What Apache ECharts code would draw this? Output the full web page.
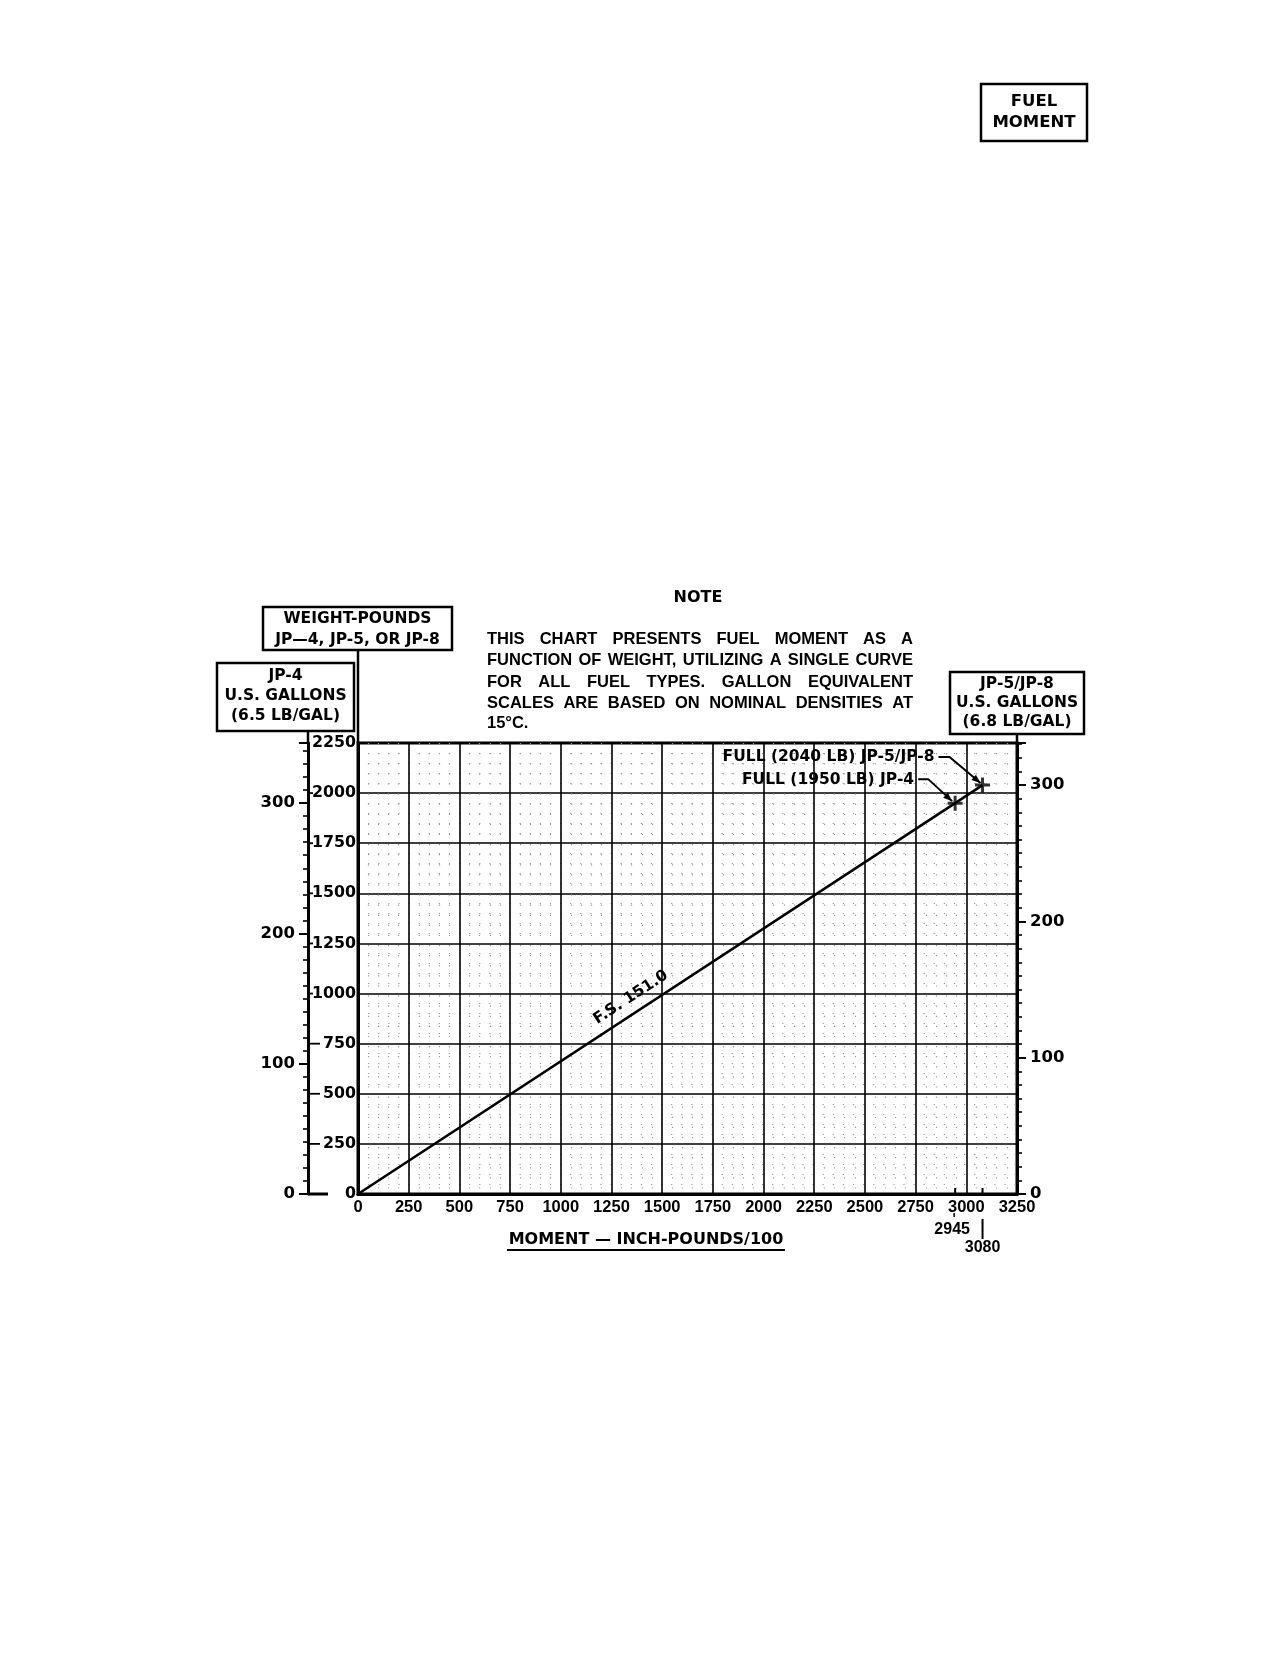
<!DOCTYPE html>
<html>
<head>
<meta charset="utf-8">
<title>Fuel Moment</title>
<script src="https://cdn.jsdelivr.net/npm/echarts@6/dist/echarts.min.js"></script>
<style>
    html, body { margin: 0; padding: 0; background: #fff; }
    #chart { width: 1288px; height: 1660px; }
</style>
</head>
<body>
<div id="chart"></div>
<script>
// fuel moment line, F.S. 151.0
const lineMoment = [0, 2945, 3080];
const lineWeight = [0, 1950, 2040];

// full tank points
const fullMoment = [2945, 3080];
const fullWeight = [1950, 2040];
const fullLabels = ['FULL (1950 LB) JP-4', 'FULL (2040 LB) JP-5/JP-8'];

// axis ranges
const momentMax = 3250;
const weightMax = 2250;
const weightTicks = [250, 500, 750, 1000, 1250, 1500, 1750, 2000];
const jp4Density = 6.5;  // lb/gal
const jp5Density = 6.8;  // lb/gal

const noteLines = [
    'THIS CHART PRESENTS FUEL MOMENT AS A',
    'FUNCTION OF WEIGHT, UTILIZING A SINGLE CURVE',
    'FOR ALL FUEL TYPES. GALLON EQUIVALENT',
    'SCALES ARE BASED ON NOMINAL DENSITIES AT',
    '15°C.'
];

const gridLeft = 358, gridTop = 743, gridW = 659, gridH = 451;
const galOffset = 50;
const boxFont = 'bold 15.5px "DejaVu Sans"';

let chart = echarts.init(document.getElementById('chart'), null, { renderer: 'canvas' });

let minorDots = { show: true, lineStyle: { color: '#999', width: 1.2, type: [1.2, 8.9] } };
let plain = v => String(Math.round(v));
let galLabel = v => (v % 100 === 0 ? String(v) : '');

let option = {
    backgroundColor: '#fff',
    animation: false,
    grid: {
        left: gridLeft, top: gridTop, width: gridW, height: gridH,
        show: true, borderColor: '#000', borderWidth: 3
    },
    xAxis: {
        type: 'value', min: 0, max: momentMax, interval: 250,
        axisLine: { show: true, lineStyle: { color: '#000', width: 3 } },
        axisTick: { show: false },
        axisLabel: { color: '#000', fontFamily: 'Liberation Sans', fontWeight: 'bold', fontSize: 16.5, margin: 5, formatter: plain },
        splitLine: { show: true, lineStyle: { color: '#000', width: 1.6 } },
        minorTick: { show: false, splitNumber: 5 },
        minorSplitLine: minorDots
    },
    yAxis: [
        {
            type: 'value', min: 0, max: weightMax, interval: 250, position: 'left',
            axisLine: { show: true, lineStyle: { color: '#000', width: 3 } },
            axisTick: { show: false },
            axisLabel: { color: '#000', fontFamily: 'DejaVu Sans', fontWeight: 'bold', fontSize: 15.8, margin: 2, formatter: plain },
            splitLine: { show: true, lineStyle: { color: '#000', width: 1.6 } },
            minorTick: { show: false, splitNumber: 5 },
            minorSplitLine: minorDots
        },
        {
            // JP-4 gallons
            type: 'value', min: 0, max: weightMax / jp4Density, interval: 100,
            position: 'left', offset: galOffset,
            axisLine: { show: true, lineStyle: { color: '#000', width: 3 } },
            axisTick: { show: true, length: 9, lineStyle: { color: '#000', width: 2 } },
            minorTick: { show: true, splitNumber: 10, length: 5, lineStyle: { color: '#000', width: 1.6 } },
            axisLabel: { color: '#000', fontFamily: 'DejaVu Sans', fontWeight: 'bold', fontSize: 16.5, margin: 13, formatter: galLabel },
            splitLine: { show: false }
        },
        {
            // JP-5 / JP-8 gallons
            type: 'value', min: 0, max: weightMax / jp5Density, interval: 100,
            position: 'right', offset: 0,
            axisLine: { show: true, lineStyle: { color: '#000', width: 3 } },
            axisTick: { show: true, length: 9, lineStyle: { color: '#000', width: 2 } },
            minorTick: { show: true, splitNumber: 10, length: 5, lineStyle: { color: '#000', width: 1.6 } },
            axisLabel: { color: '#000', fontFamily: 'DejaVu Sans', fontWeight: 'bold', fontSize: 16.5, margin: 13, formatter: galLabel },
            splitLine: { show: false }
        }
    ],
    series: [
        {
            type: 'line',
            yAxisIndex: 0,
            data: lineMoment.map((m, i) => [m, lineWeight[i]]),
            symbol: 'none',
            lineStyle: { color: '#000', width: 2.6 },
            z: 5
        },
        {
            type: 'scatter',
            yAxisIndex: 0,
            data: fullMoment.map((m, i) => [m, fullWeight[i]]),
            symbol: 'path://M5.6,0H8.4V14H5.6Z M0,5.6H14V8.4H0Z',
            symbolSize: 15,
            itemStyle: { color: '#000' },
            z: 6
        }
    ]
};
chart.setOption(option);

// ---- annotations ----
function px(m, w) {
    return chart.convertToPixel({ xAxisIndex: 0, yAxisIndex: 0 }, [m, w]);
}

function txt(x, y, s, font, align, extra) {
    return Object.assign({
        type: 'text', x: x, y: y, z: 20,
        style: { text: s, fill: '#000', font: font, align: align || 'center', verticalAlign: 'middle' }
    }, extra || {});
}

function line(x1, y1, x2, y2, w) {
    return { type: 'line', z: 20, shape: { x1, y1, x2, y2 }, style: { stroke: '#000', lineWidth: w || 2 } };
}

function box(x, y, w, h) {
    return { type: 'rect', z: 19, shape: { x, y, width: w, height: h }, style: { fill: '#fff', stroke: '#000', lineWidth: 2.5 } };
}

function arrowHead(p, t) {
    let dx = t[0] - p[0], dy = t[1] - p[1];
    let len = Math.sqrt(dx * dx + dy * dy);
    let ux = dx / len, uy = dy / len;
    let bx = t[0] - 9 * ux, by = t[1] - 9 * uy;
    return {
        type: 'polygon', z: 20,
        shape: { points: [t, [bx - 3.5 * uy, by + 3.5 * ux], [bx + 3.5 * uy, by - 3.5 * ux]] },
        style: { fill: '#000' }
    };
}

let g = [];

// FUEL MOMENT tab
g.push(box(981, 84, 106, 57));
g.push(txt(1034, 102, 'FUEL', 'bold 16.5px "DejaVu Sans"'));
g.push(txt(1034, 123, 'MOMENT', 'bold 16.5px "DejaVu Sans"'));

// NOTE, justified paragraph
g.push(txt(698, 598, 'NOTE', 'bold 16px "DejaVu Sans"'));
let noteLeft = 487, noteRight = 913, noteY = [639, 660.5, 682, 703, 723];
let noteFont = 'bold 16.5px "Liberation Sans"';
let ctx = document.createElement('canvas').getContext('2d');
ctx.font = noteFont;
// squeeze horizontally so the longest line just fills the column
let sx = Math.min(1, (noteRight - noteLeft) / ctx.measureText(noteLines[1]).width);
noteLines.forEach((ln, i) => {
    let words = ln.split(' ');
    if (i === noteLines.length - 1) {
        g.push(txt(noteLeft, noteY[i], ln, noteFont, 'left', { scaleX: sx }));
        return;
    }
    let widths = words.map(w => ctx.measureText(w).width * sx);
    let total = widths.reduce((a, b) => a + b, 0);
    let gap = (noteRight - noteLeft - total) / (words.length - 1);
    let x = noteLeft;
    words.forEach((w, k) => {
        g.push(txt(x, noteY[i], w, noteFont, 'left', { scaleX: sx }));
        x += widths[k] + gap;
    });
});

// axis title boxes
g.push(box(263, 607, 189, 43));
g.push(txt(357.5, 619, 'WEIGHT-POUNDS', boxFont));
g.push(txt(357.5, 640, 'JP—4, JP-5, OR JP-8', boxFont));
g.push(line(gridLeft, 650, gridLeft, gridTop, 2.5));

g.push(box(217, 663, 137, 68));
g.push(txt(285.5, 676, 'JP-4', boxFont));
g.push(txt(285.5, 696, 'U.S. GALLONS', boxFont));
g.push(txt(285.5, 716, '(6.5 LB/GAL)', boxFont));
g.push(line(gridLeft - galOffset, 731, gridLeft - galOffset, gridTop, 2.5));

g.push(box(950, 672, 134, 62));
g.push(txt(1017, 684, 'JP-5/JP-8', boxFont));
g.push(txt(1017, 703, 'U.S. GALLONS', boxFont));
g.push(txt(1017, 722, '(6.8 LB/GAL)', boxFont));
g.push(line(gridLeft + gridW, 734, gridLeft + gridW, gridTop, 2.5));

// little dashes from gallon axis to weight labels
let galX = gridLeft - galOffset;
weightTicks.forEach(w => {
    let y = px(0, w)[1];
    g.push(line(galX, y, galX + (w < 1000 ? 12 : 5), y, 1.8));
});
let y0 = px(0, 0)[1];
g.push(line(galX, y0, galX + 20, y0, 3));

// full tank labels with leaders
let pJ4 = px(fullMoment[0], fullWeight[0]);
let pJ5 = px(fullMoment[1], fullWeight[1]);
let annFont = 'bold 15.5px "DejaVu Sans"';

g.push(txt(pJ5[0] - 48, pJ5[1] - 28, fullLabels[1], annFont, 'right'));
let a5 = [[pJ5[0] - 44, pJ5[1] - 28], [pJ5[0] - 33, pJ5[1] - 28], [pJ5[0] - 2, pJ5[1] - 2]];
g.push({ type: 'polyline', z: 20, shape: { points: a5 }, style: { stroke: '#000', lineWidth: 2, fill: null } });
g.push(arrowHead(a5[1], a5[2]));

g.push(txt(pJ4[0] - 41, pJ4[1] - 23, fullLabels[0], annFont, 'right'));
let a4 = [[pJ4[0] - 37, pJ4[1] - 24], [pJ4[0] - 27, pJ4[1] - 24], [pJ4[0] - 3, pJ4[1] - 2]];
g.push({ type: 'polyline', z: 20, shape: { points: a4 }, style: { stroke: '#000', lineWidth: 2, fill: null } });
g.push(arrowHead(a4[1], a4[2]));

// F.S. 151.0 label along the line
let p0 = px(lineMoment[0], lineWeight[0]);
let p2 = px(lineMoment[2], lineWeight[2]);
let ang = Math.atan2(p0[1] - p2[1], p2[0] - p0[0]);
let t = 0.45;
let cx = p0[0] + t * (p2[0] - p0[0]) - 15 * Math.sin(ang);
let cy = p0[1] + t * (p2[1] - p0[1]) - 15 * Math.cos(ang);
g.push(txt(cx, cy, 'F.S. 151.0', 'bold 15.5px "DejaVu Sans"', 'center', { rotation: ang }));

// full moment values under the axis
let yAx = y0;
g.push(line(pJ4[0], yAx - 6, pJ4[0], yAx, 2));
g.push(line(pJ5[0], yAx - 6, pJ5[0], yAx, 2));
g.push(line(pJ4[0] - 1, yAx + 19, pJ4[0] - 1, yAx + 23, 1.5));
g.push(txt(pJ4[0] - 3, yAx + 36, String(fullMoment[0]), 'bold 16px "Liberation Sans"'));
g.push(line(pJ5[0], yAx + 25, pJ5[0], yAx + 45, 2));
g.push(txt(pJ5[0], yAx + 54, String(fullMoment[1]), 'bold 16px "Liberation Sans"'));

// x axis title
g.push(txt(646, 1240, 'MOMENT — INCH-POUNDS/100', 'bold 16px "DejaVu Sans"'));
g.push(line(507, 1250, 785, 1250, 2));

chart.setOption({ graphic: g });
</script>
</body>
</html>
